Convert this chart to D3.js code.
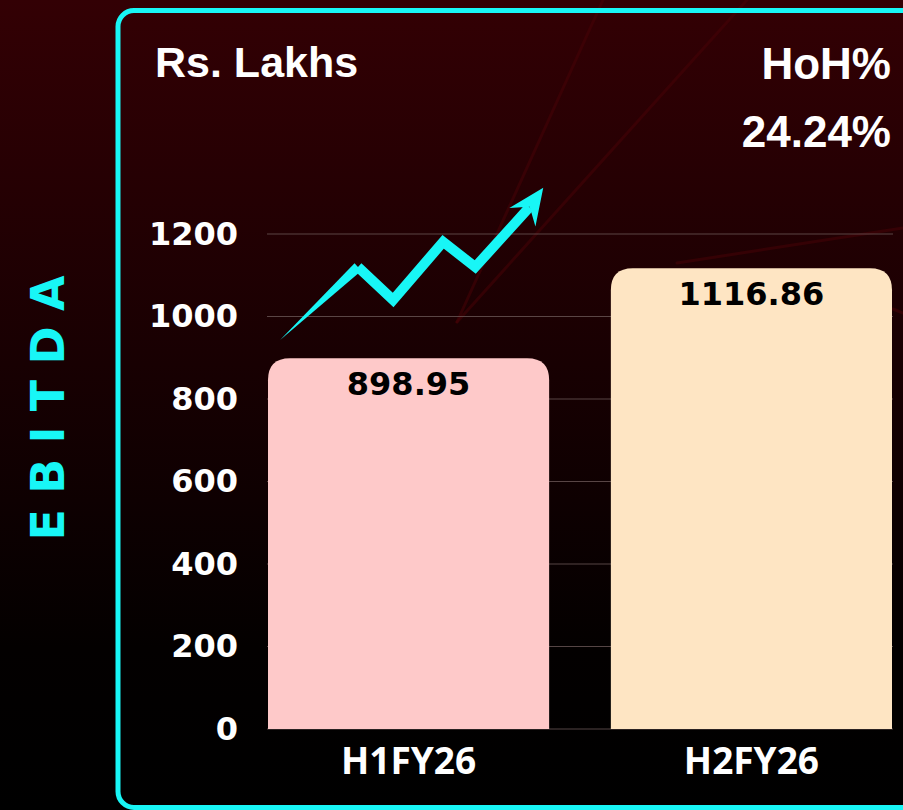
<!DOCTYPE html>
<html>
<head>
<meta charset="utf-8">
<script src="https://cdn.jsdelivr.net/npm/d3@7"></script>
<style>
  body { margin: 0; background: #000; }
  svg { display: block; }
</style>
</head>
<body>
<div id="chart"></div>
<script>
// Data
const categories = ["H1FY26", "H2FY26"];
const values = [898.95, 1116.86];
const valueLabels = ["898.95", "1116.86"];
const yTicks = [0, 200, 400, 600, 800, 1000, 1200];
const unitLabel = "Rs. Lakhs";
const metricLabel = "EBITDA";
const changeTitle = "HoH%";
const changeValue = "24.24%";

// decorative trend arrow: [fraction across first band, value on y scale]
const arrowPoints = [[0.32, 1120], [0.445, 1040], [0.623, 1181], [0.737, 1120], [0.93, 1265]];
const arrowTail = [0.043, 943];
const arrowTip = [0.979, 1312];

const W = 903, H = 810;
const cyan = "#18f6f6";
const barColors = ["#fec9c9", "#fee5c3"];

const svg = d3.select("#chart")
    .append("svg")
    .attr("width", W)
    .attr("height", H);

// Background gradient
const defs = svg.append("defs");
const grad = defs.append("linearGradient")
    .attr("id", "bg")
    .attr("x1", 0).attr("y1", 0).attr("x2", 0).attr("y2", 1);
grad.append("stop").attr("offset", "0%").attr("stop-color", "#330004");
grad.append("stop").attr("offset", "45%").attr("stop-color", "#180002");
grad.append("stop").attr("offset", "80%").attr("stop-color", "#030000");
grad.append("stop").attr("offset", "100%").attr("stop-color", "#000000");

svg.append("rect")
    .attr("width", W)
    .attr("height", H)
    .attr("fill", "url(#bg)");

// Faint decorative streaks
const streaks = [[457, 322, 603, 0], [457, 322, 747, 0], [677, 263, 903, 228], [893, 309, 903, 313]];
svg.append("g")
    .selectAll("line")
    .data(streaks)
    .join("line")
    .attr("x1", d => d[0]).attr("y1", d => d[1])
    .attr("x2", d => d[2]).attr("y2", d => d[3])
    .attr("stroke", "#470207")
    .attr("stroke-opacity", 0.55)
    .attr("stroke-width", 3)
    .attr("stroke-linecap", "round");

// Cyan frame
svg.append("rect")
    .attr("x", 118)
    .attr("y", 10.5)
    .attr("width", 900)
    .attr("height", 797)
    .attr("rx", 16)
    .attr("fill", "none")
    .attr("stroke", cyan)
    .attr("stroke-width", 5);

// Scales
const x = d3.scaleBand()
    .domain(categories)
    .range([268, 892])
    .paddingInner(0.18)
    .paddingOuter(0);

const y = d3.scaleLinear()
    .domain([0, 1200])
    .range([729, 234]);

// Gridlines
svg.append("g")
    .selectAll("line")
    .data(yTicks)
    .join("line")
    .attr("x1", 267)
    .attr("x2", 893)
    .attr("y1", d => y(d))
    .attr("y2", d => y(d))
    .attr("stroke", "#6a5656")
    .attr("stroke-opacity", 0.8)
    .attr("stroke-width", 1);

// Y axis labels
const yAxis = svg.append("g")
    .attr("transform", "translate(238,0)")
    .call(d3.axisLeft(y).tickValues(yTicks).tickSize(0).tickPadding(0).tickFormat(d3.format("d")));
yAxis.select(".domain").remove();
yAxis.selectAll("text")
    .attr("fill", "#ffffff")
    .style("font-family", "'DejaVu Sans', sans-serif")
    .style("font-weight", "bold")
    .style("font-size", "32px");

// Bars with rounded top corners
function topRoundedBar(x0, y0, w, h, r) {
    return `M${x0},${y0 + h}V${y0 + r}Q${x0},${y0} ${x0 + r},${y0}` +
        `H${x0 + w - r}Q${x0 + w},${y0} ${x0 + w},${y0 + r}V${y0 + h}Z`;
}

svg.append("g")
    .selectAll("path")
    .data(values)
    .join("path")
    .attr("d", (d, i) => topRoundedBar(x(categories[i]), y(d), x.bandwidth(), y(0) - y(d), 22))
    .attr("fill", (d, i) => barColors[i]);

// Bar value labels
svg.append("g")
    .selectAll("text")
    .data(values)
    .join("text")
    .attr("x", (d, i) => x(categories[i]) + x.bandwidth() / 2)
    .attr("y", d => y(d) + 37)
    .attr("text-anchor", "middle")
    .attr("fill", "#000")
    .style("font-family", "'DejaVu Sans', sans-serif")
    .style("font-weight", "bold")
    .style("font-size", "32px")
    .text((d, i) => valueLabels[i]);

// Category labels
svg.append("g")
    .attr("transform", "translate(0,729)")
    .call(d3.axisBottom(x).tickSize(0).tickPadding(0))
    .call(g => g.select(".domain").remove())
    .selectAll("text")
    .attr("y", 45)
    .attr("dy", 0)
    .attr("fill", "#ffffff")
    .style("font-family", "'Open Sans', sans-serif")
    .style("font-weight", "bold")
    .style("font-size", "37px");

// Trend arrow (decoration)
const band0 = categories[0];
const ax = f => x(band0) + f * x.bandwidth();
const pts = arrowPoints.map(p => [ax(p[0]), y(p[1])]);
const tail = [ax(arrowTail[0]), y(arrowTail[1])];
const tip = [ax(arrowTip[0]), y(arrowTip[1])];

// tapered tail
const first = pts[0];
const dx = first[0] - tail[0], dy = first[1] - tail[1];
const len = Math.hypot(dx, dy);
const nx = -dy / len * 5, ny = dx / len * 5;
svg.append("path")
    .attr("d", `M${tail[0]},${tail[1]}L${first[0] + nx},${first[1] + ny}L${first[0] - nx},${first[1] - ny}Z`)
    .attr("fill", cyan);

svg.append("path")
    .attr("d", d3.line()(pts))
    .attr("fill", "none")
    .attr("stroke", cyan)
    .attr("stroke-width", 10)
    .attr("stroke-linejoin", "miter");

// arrow head
const last = pts[pts.length - 1];
const hx = tip[0] - last[0], hy = tip[1] - last[1];
const hl = Math.hypot(hx, hy);
const ux = hx / hl, uy = hy / hl;
const headLen = 36, headW = 16;
const bx = tip[0] - ux * headLen, by = tip[1] - uy * headLen;
const inner = 0.65;
svg.append("path")
    .attr("d", `M${tip[0]},${tip[1]}` +
        `L${bx - uy * headW},${by + ux * headW}` +
        `L${tip[0] - ux * headLen * inner},${tip[1] - uy * headLen * inner}` +
        `L${bx + uy * headW},${by - ux * headW}Z`)
    .attr("fill", cyan);

// Titles
svg.append("text")
    .attr("x", 155)
    .attr("y", 77)
    .attr("fill", "#fff")
    .style("font-family", "'Liberation Sans', Arial, sans-serif")
    .style("font-weight", "bold")
    .style("font-size", "43px")
    .text(unitLabel);

svg.append("text")
    .attr("x", 891)
    .attr("y", 79)
    .attr("text-anchor", "end")
    .attr("fill", "#fff")
    .style("font-family", "'Liberation Sans', Arial, sans-serif")
    .style("font-weight", "bold")
    .style("font-size", "44px")
    .text(changeTitle);

svg.append("text")
    .attr("x", 891)
    .attr("y", 147)
    .attr("text-anchor", "end")
    .attr("fill", "#fff")
    .style("font-family", "'Liberation Sans', Arial, sans-serif")
    .style("font-weight", "bold")
    .style("font-size", "44px")
    .text(changeValue);

// Rotated metric label
svg.append("text")
    .attr("transform", "translate(47,408) rotate(-90)")
    .attr("text-anchor", "middle")
    .attr("dy", "0.36em")
    .attr("fill", cyan)
    .attr("textLength", 265)
    .attr("lengthAdjust", "spacing")
    .style("font-family", "'DejaVu Sans', sans-serif")
    .style("font-weight", "bold")
    .style("font-size", "46px")
    .text(metricLabel);
</script>
</body>
</html>
